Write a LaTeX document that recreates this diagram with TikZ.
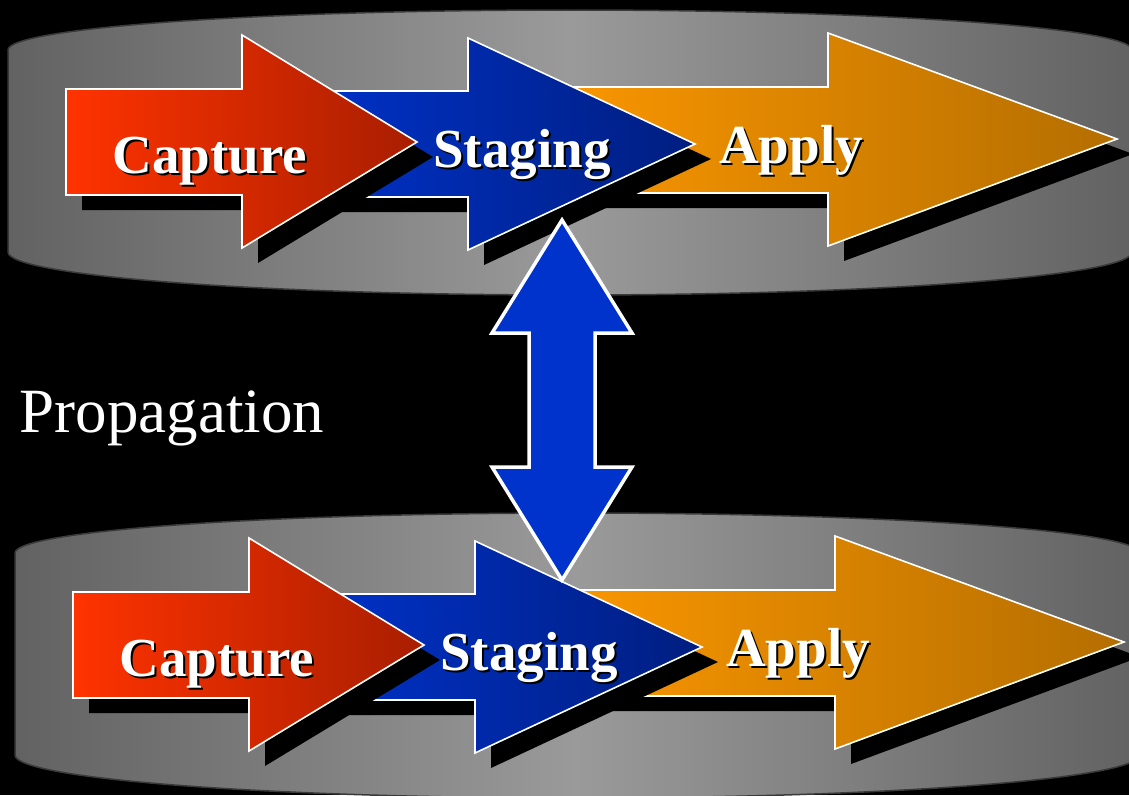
\documentclass[tikz,border=0pt]{standalone}
\usepackage{fontspec}
\setmainfont{Liberation Serif}
\definecolor{slabedge}{RGB}{98,98,98}
\definecolor{slabmid}{RGB}{154,154,154}
\definecolor{slabline}{RGB}{58,58,58}
\definecolor{capL}{RGB}{255,51,0}
\definecolor{capR}{RGB}{168,30,0}
\definecolor{stgL}{RGB}{0,51,204}
\definecolor{stgR}{RGB}{0,30,128}
\definecolor{appL}{RGB}{255,153,0}
\definecolor{appR}{RGB}{180,110,0}
\definecolor{linkblue}{RGB}{0,51,204}

% block arrow outline: body from x=#1 (rows #2..#3), head base at x=#4 (rows #5..#6), tip (#7,#8)
\newcommand\ArrowOutline[8]{(#1,#2) -- (#4,#2) -- (#4,#5) -- (#7,#8) -- (#4,#6) -- (#4,#3) -- (#1,#3) -- cycle}

\tikzset{
  slab/.style={draw=slabline, line width=1.5pt, left color=slabedge, right color=slabedge, middle color=slabmid},
  arrowedge/.style={draw=white, line width=1.6pt, line join=miter},
  dropshadow/.style={fill=black},
  stagelabel/.style={font=\bfseries\fontsize{55}{60}\selectfont, anchor=base, inner sep=0pt, outer sep=0pt},
}

% label with a small black drop shadow
\newcommand\ShadowLabel[4]{%
  \node[stagelabel, text=black] at (#2+2,#3+2) {#4};
  \node[stagelabel, text=white] (#1) at (#2,#3) {#4};
}

% one row: slab plus the three stage arrows
\newcommand\StageRow[1]{%
  \path[slab] (8,252) -- (8,50)
     arc[start angle=180, end angle=360, x radius=562, y radius=40]
     -- (1132,252)
     arc[start angle=0, end angle=180, x radius=562, y radius=43] -- cycle;
  % apply
  \begin{scope}[shift={(16,15)}]
    \fill[dropshadow] \ArrowOutline{520}{87}{193}{828}{33}{246}{1117}{139};
  \end{scope}
  \path[arrowedge, left color=appL, right color=appR] \ArrowOutline{520}{87}{193}{828}{33}{246}{1117}{139};
  % staging
  \begin{scope}[shift={(16,15)}]
    \fill[dropshadow] \ArrowOutline{290}{91}{197}{468}{38}{250}{695}{144};
  \end{scope}
  \path[arrowedge, left color=stgL, right color=stgR] \ArrowOutline{290}{91}{197}{468}{38}{250}{695}{144};
  % capture
  \begin{scope}[shift={(16,15)}]
    \fill[dropshadow] \ArrowOutline{66}{89}{195}{242}{35}{248}{417}{142};
  \end{scope}
  \path[arrowedge, left color=capL, right color=capR] \ArrowOutline{66}{89}{195}{242}{35}{248}{417}{142};
  \ShadowLabel{capture#1}{210}{173}{Capture}
  \ShadowLabel{staging#1}{522}{167}{Staging}
  \ShadowLabel{apply#1}{791}{163}{Apply}
}

\begin{document}
\begin{tikzpicture}[x=1pt,y=-1pt]
  \useasboundingbox (0,0) rectangle (1129,795);
  \fill[black] (0,0) rectangle (1129,795);

  \StageRow{A}
  \begin{scope}[shift={(7,503)}]
    \StageRow{B}
  \end{scope}

  \node[font=\fontsize{63}{70}\selectfont, text=white, anchor=base, inner sep=0pt] (prop) at (172,432) {Propagation};

  % two-way link between the staging areas
  \path[draw=white, line width=3.5pt, fill=linkblue, line join=miter]
    (562,220) -- (632,333) -- (595,333) -- (595,467) -- (632,467) -- (562,580)
    -- (492,467) -- (529,467) -- (529,333) -- (492,333) -- cycle;
\end{tikzpicture}
\end{document}
